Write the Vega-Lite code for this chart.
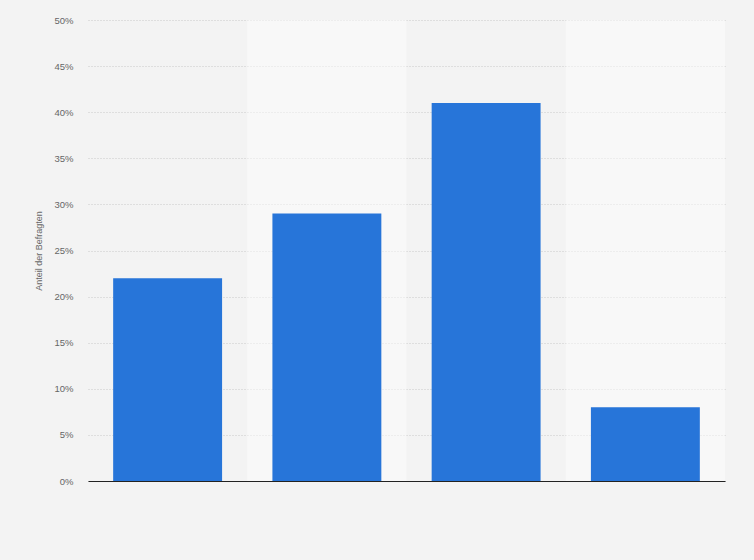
{
  "$schema": "https://vega.github.io/schema/vega-lite/v6.json",
  "width": 637,
  "height": 461,
  "autosize": {"type": "none"},
  "padding": {"left": 88, "top": 20, "right": 29, "bottom": 79},
  "background": "#f3f3f3",
  "config": {
    "view": {"stroke": null, "fill": "#f3f3f3"},
    "font": "Liberation Sans"
  },
  "datasets": {
    "bars": [
      {"kategorie": "A", "anteil": 0.22},
      {"kategorie": "B", "anteil": 0.29},
      {"kategorie": "C", "anteil": 0.41},
      {"kategorie": "D", "anteil": 0.08}
    ],
    "bands": [
      {"kategorie": "B", "top": 0.5},
      {"kategorie": "D", "top": 0.5}
    ]
  },
  "layer": [
    {
      "data": {"name": "bands"},
      "mark": {"type": "bar", "color": "#ffffff", "opacity": 0.45, "width": {"band": 1}},
      "encoding": {
        "x": {"field": "kategorie", "type": "nominal"},
        "y": {"field": "top", "type": "quantitative"}
      }
    },
    {
      "data": {"name": "bars"},
      "mark": {"type": "bar", "color": "#2775d9", "width": {"band": 0.684}},
      "encoding": {
        "x": {
          "field": "kategorie",
          "type": "nominal",
          "sort": ["A", "B", "C", "D"],
          "scale": {"domain": ["A", "B", "C", "D"], "paddingInner": 0, "paddingOuter": 0},
          "axis": {
            "title": null,
            "labels": false,
            "ticks": false,
            "domain": true,
            "domainColor": "#222222",
            "domainWidth": 1.2,
            "grid": false
          }
        },
        "y": {
          "field": "anteil",
          "type": "quantitative",
          "scale": {"domain": [0, 0.5]},
          "axis": {
            "title": "Anteil der Befragten",
            "titleFont": "Liberation Sans",
            "titleFontSize": 9,
            "titleFontWeight": "normal",
            "titleColor": "#666666",
            "titlePadding": 10,
            "format": ".0%",
            "values": [0, 0.05, 0.1, 0.15, 0.2, 0.25, 0.3, 0.35, 0.4, 0.45, 0.5],
            "labelFontSize": 9.5,
            "labelColor": "#666666",
            "labelPadding": 15,
            "ticks": false,
            "domain": false,
            "grid": true,
            "gridColor": "#c8c8c8",
            "gridDash": [1, 2],
            "gridWidth": 1
          }
        }
      }
    }
  ]
}
